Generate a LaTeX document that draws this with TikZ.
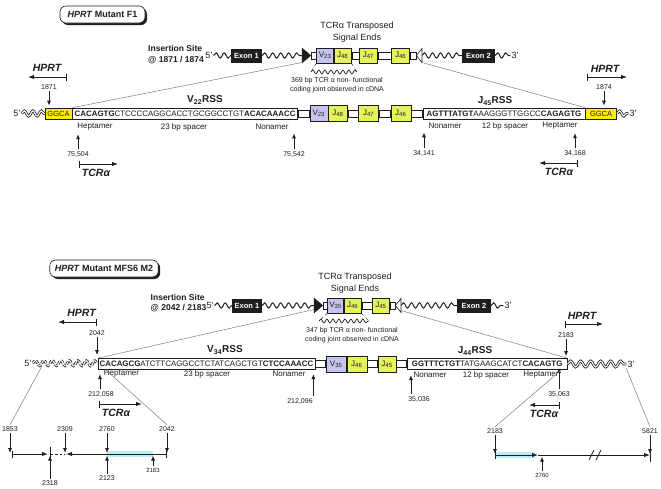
\documentclass[tikz,border=0pt]{standalone}
\usepackage{fontspec}
\setmainfont{Liberation Sans}
\usetikzlibrary{positioning,arrows.meta,decorations.pathmorphing,shadows}

\definecolor{ink}{RGB}{30,30,30}
\definecolor{vgene}{RGB}{196,196,238}
\definecolor{jgene}{RGB}{228,242,92}
\definecolor{ggcay}{RGB}{255,236,0}
\definecolor{projgray}{RGB}{125,125,125}
\definecolor{hilite}{RGB}{188,236,244}

\begin{document}
\begin{tikzpicture}[
    x=1pt, y=-1pt,
    every node/.style={text=ink},
    % Panel titles and headings
    paneltitle/.style={rectangle, rounded corners=6pt, draw=ink, semithick, fill=white, minimum width=85pt, minimum height=17pt, inner xsep=5pt, font=\fontsize{9}{11}\selectfont\bfseries, drop shadow={shadow xshift=2pt, shadow yshift=-2pt, fill=ink, opacity=1}},
    headtext/.style={align=center, font=\fontsize{9}{12}\selectfont},
    sitetext/.style={align=left, font=\fontsize{8.5}{10.5}\selectfont\bfseries},
    % Gene segments
    exonbox/.style={rectangle, fill=ink, text=white, minimum height=14pt, inner sep=0pt, font=\fontsize{7.5}{9}\selectfont\bfseries},
    genebox/.style={rectangle, draw=ink, semithick, minimum height=15pt, inner sep=0pt, font=\fontsize{8}{9}\selectfont},
    vbox/.style={genebox, fill=vgene},
    jbox/.style={genebox, fill=jgene},
    linkbox/.style={rectangle, draw=ink, semithick, fill=white, minimum height=7pt, inner sep=0pt},
    rssbox/.style={rectangle, draw=ink, semithick, fill=white, minimum height=11pt, inner sep=0pt, font=\fontsize{7.9}{9}\selectfont},
    ggcabox/.style={rssbox, fill=ggcay, font=\fontsize{7.5}{9}\selectfont},
    hlbox/.style={rectangle, fill=hilite, minimum height=6pt, inner sep=0pt},
    % Labels
    endlbl/.style={inner sep=1pt, font=\fontsize{9}{10}\selectfont},
    rsslbl/.style={font=\fontsize{10}{12}\selectfont\bfseries},
    partlbl/.style={font=\fontsize{8}{9}\selectfont},
    numlbl/.style={inner sep=1.5pt, font=\fontsize{7}{8}\selectfont},
    genename/.style={font=\fontsize{10.5}{12}\selectfont\bfseries\itshape},
    notetext/.style={align=center, font=\fontsize{7}{9}\selectfont},
    % Lines
    wave/.style={ink, line width=1pt, decorate, decoration={snake, amplitude=2.6pt, segment length=8pt}},
    dnawave/.style={ink, line width=0.8pt, double=white, double distance=1.1pt, decorate, decoration={snake, amplitude=2.6pt, segment length=8.5pt}},
    posarrow/.style={ink, line width=0.9pt, -{Latex[length=5pt, width=4pt]}},
    extent/.style={ink, line width=1pt, {Bar[width=7pt]}-{Latex[length=6pt, width=4.5pt]}},
    proj/.style={projgray, line width=0.5pt}
]

\fill[white] (0,0) rectangle (661,488);
\useasboundingbox (0,0) rectangle (661,488);

%%%%%%%%%%%%%%%% Mutant F1 %%%%%%%%%%%%%%%%
\node[paneltitle] (a_title) at (102.5,14.5) {\textit{HPRT} Mutant F1};
\node[headtext] (a_head) at (357,32) {TCRα Transposed\\Signal Ends};
\node[sitetext] (a_site) at (176,54.5) {Insertion Site\\@ 1871 / 1874};

% Transposed signal ends (top)
\node[endlbl] (a_t5) at (209,55.5) {5'};
\node[exonbox, minimum width=31pt] (a_ex1) at (246.5,55.5) {Exon 1};
\coordinate (a_fbase) at (302,55.5);
\node[linkbox, minimum width=5pt] (a_tl1) at (313.5,55.5) {};
\node[vbox, right=0pt of a_tl1, minimum width=17pt] (a_tv23) {V\textsubscript{23}};
\node[jbox, right=0pt of a_tv23, minimum width=17pt] (a_tj48) {J\textsubscript{48}};
\node[linkbox, right=0pt of a_tj48, minimum width=7pt] (a_tl2) {};
\node[jbox, right=0pt of a_tl2, minimum width=18pt] (a_tj47) {J\textsubscript{47}};
\node[linkbox, right=0pt of a_tj47, minimum width=13pt] (a_tl3) {};
\node[jbox, right=0pt of a_tl3, minimum width=18pt] (a_tj46) {J\textsubscript{46}};
\node[linkbox, right=0pt of a_tj46, minimum width=6pt] (a_tl4) {};
\coordinate (a_obase) at (422,55.5);
\node[exonbox, minimum width=33pt] (a_ex2) at (478.5,55.5) {Exon 2};
\node[endlbl] (a_t3) at (515,55.5) {3'};

\draw[wave] (a_t5) -- (a_ex1);
\draw[wave] (a_ex1) -- (a_fbase);
\draw[wave] (a_obase) -- (a_ex2);
\draw[wave] (a_ex2) -- (a_t3);
\filldraw[ink] ([yshift=7.5pt]a_fbase) -- (a_tl1.west) -- ([yshift=-7.5pt]a_fbase) -- cycle;
\draw[ink, semithick, fill=white] ([yshift=7pt]a_obase) -- (a_tl4.east) -- ([yshift=-7pt]a_obase) -- cycle;

% Coding joint
\coordinate (a_wl) at (311,72);
\coordinate (a_wr) at (357,72);
\draw[ink, dashed, thin] (a_tv23.south west) -- (a_wl);
\draw[ink, dashed, thin] (a_tj48.south east) -- (a_wr);
\draw[wave, line width=0.7pt, decoration={amplitude=2pt, segment length=6pt}] (a_wl) -- (a_wr);
\node[notetext] (a_note) at (337,85.5) {369 bp TCR α non- functional\\coding joint observed in cDNA};

% Integrated sequence
\node[endlbl] (a_m5) at (17,113.5) {5'};
\node[ggcabox, minimum width=27pt] (a_g1) at (58.5,113.5) {GGCA};
\node[rssbox, right=0pt of a_g1, minimum width=225pt] (a_rss1) {\textbf{CACAGTG}CTCCCCAGGCACCTGCGGCCTGT\textbf{ACACAAACC}};
\node[linkbox, right=0pt of a_rss1, minimum width=11pt] (a_l1) {};
\node[vbox, right=0pt of a_l1, minimum width=18pt, minimum height=16pt] (a_v23) {V\textsubscript{23}};
\node[jbox, right=0pt of a_v23, minimum width=19pt, minimum height=16pt] (a_j48) {J\textsubscript{48}};
\node[linkbox, right=0pt of a_j48, minimum width=10pt] (a_l2) {};
\node[jbox, right=0pt of a_l2, minimum width=20pt, minimum height=16pt] (a_j47) {J\textsubscript{47}};
\node[linkbox, right=0pt of a_j47, minimum width=11pt] (a_l3) {};
\node[jbox, right=0pt of a_l3, minimum width=20pt, minimum height=16pt] (a_j46) {J\textsubscript{46}};
\node[linkbox, right=0pt of a_j46, minimum width=11pt] (a_l4) {};
\node[rssbox, right=0pt of a_l4, minimum width=162pt] (a_rss2) {\textbf{AGTTTATGT}AAAGGGTTGGCC\textbf{CAGAGTG}};
\node[ggcabox, right=0pt of a_rss2, minimum width=31pt] (a_g2) {GGCA};
\node[endlbl] (a_m3) at (633,113.5) {3'};
\draw[dnawave] (a_m5) -- (a_g1);
\draw[dnawave] (a_g2) -- (a_m3);

% Projection lines
\draw[proj] ([yshift=-7pt]a_fbase) -- (a_rss1.north west);
\draw[proj] ([yshift=-7pt]a_obase) -- (a_rss2.north east);

% RSS labels
\node[rsslbl] (a_vrss) at (205,100) {V\textsubscript{22}RSS};
\node[rsslbl] (a_jrss) at (495,101) {J\textsubscript{45}RSS};
\node[partlbl] (a_hep1) at (95,127) {Heptamer};
\node[partlbl] (a_spa1) at (184,127) {23 bp spacer};
\node[partlbl] (a_non1) at (272,127) {Nonamer};
\node[partlbl] (a_non2) at (445,126) {Nonamer};
\node[partlbl] (a_spa2) at (505,126) {12 bp spacer};
\node[partlbl] (a_hep2) at (560,126) {Heptamer};

% TCRa positions
\node[numlbl] (a_n75504) at (78,154) {75,504};
\node[numlbl] (a_n75542) at (294,154) {75,542};
\node[numlbl] (a_n34141) at (424,153) {34,141};
\node[numlbl] (a_n34168) at (575,153) {34,168};
\draw[posarrow] (a_n75504) -- (a_n75504 |- a_hep1.south);
\draw[posarrow] (a_n75542) -- (a_n75542 |- a_non1.south);
\draw[posarrow] (a_n34141) -- (a_n34141 |- a_non2.south);
\draw[posarrow] (a_n34168) -- (a_n34168 |- a_hep2.south);

\coordinate (a_tcl_s) at (79,164);
\coordinate (a_tcl_e) at (118,164);
\draw[extent] (a_tcl_s) -- (a_tcl_e);
\node[genename] (a_tcr1) at (96,172.5) {TCRα};
\coordinate (a_tcr_s) at (578,163);
\coordinate (a_tcr_e) at (539,163);
\draw[extent] (a_tcr_s) -- (a_tcr_e);
\node[genename] (a_tcr2) at (559,171.5) {TCRα};

% HPRT positions
\node[genename] (a_hprt1) at (47,68) {HPRT};
\coordinate (a_hl_s) at (67,77);
\coordinate (a_hl_e) at (28,77);
\draw[extent] (a_hl_s) -- (a_hl_e);
\node[numlbl] (a_n1871) at (49,87) {1871};
\draw[posarrow, shorten >=2pt] (a_n1871) -- (a_n1871 |- a_g1.north);

\node[genename] (a_hprt2) at (605,69) {HPRT};
\coordinate (a_hr_s) at (587,77);
\coordinate (a_hr_e) at (627,77);
\draw[extent] (a_hr_s) -- (a_hr_e);
\node[numlbl] (a_n1874) at (604,87) {1874};
\draw[posarrow, shorten >=2pt] (a_n1874) -- (a_n1874 |- a_g2.north);

%%%%%%%%%%%%%%%% Mutant MFS6 M2 %%%%%%%%%%%%%%%%
\node[paneltitle] (b_title) at (104,268.5) {\textit{HPRT} Mutant MFS6 M2};
\node[headtext] (b_head) at (355,283) {TCRα Transposed\\Signal Ends};
\node[sitetext] (b_site) at (178.5,303) {Insertion Site\\@ 2042 / 2183};

% Transposed signal ends (top)
\node[endlbl] (b_t5) at (210,305.5) {5'};
\node[exonbox, minimum width=30pt] (b_ex1) at (247,305.5) {Exon 1};
\coordinate (b_fbase) at (314,305.5);
\node[linkbox, minimum width=4pt] (b_tl1) at (325,305.5) {};
\node[vbox, right=0pt of b_tl1, minimum width=16pt] (b_tv35) {V\textsubscript{35}};
\node[jbox, right=0pt of b_tv35, minimum width=17pt] (b_tj46) {J\textsubscript{46}};
\node[linkbox, right=0pt of b_tj46, minimum width=10pt] (b_tl2) {};
\node[jbox, right=0pt of b_tl2, minimum width=17pt] (b_tj45) {J\textsubscript{45}};
\node[linkbox, right=0pt of b_tj45, minimum width=5pt] (b_tl3) {};
\coordinate (b_obase) at (401,305.5);
\node[exonbox, minimum width=34pt] (b_ex2) at (474,305.5) {Exon 2};
\node[endlbl] (b_t3) at (508,305.5) {3'};

\draw[wave] (b_t5) -- (b_ex1);
\draw[wave] (b_ex1) -- (b_fbase);
\draw[wave] (b_obase) -- (b_ex2);
\draw[wave] (b_ex2) -- (b_t3);
\filldraw[ink] ([yshift=7.5pt]b_fbase) -- (b_tl1.west) -- ([yshift=-7.5pt]b_fbase) -- cycle;
\draw[ink, semithick, fill=white] ([yshift=7pt]b_obase) -- (b_tl3.east) -- ([yshift=-7pt]b_obase) -- cycle;

% Coding joint
\coordinate (b_wl) at (319,321);
\coordinate (b_wr) at (369,321);
\draw[ink, dashed, thin] (b_tv35.south west) -- (b_wl);
\draw[ink, dashed, thin] (b_tj46.south east) -- (b_wr);
\draw[wave, line width=0.7pt, decoration={amplitude=2pt, segment length=6pt}] (b_wl) -- (b_wr);
\node[notetext] (b_note) at (352,335.5) {347 bp TCR α non- functional\\coding joint observed in cDNA};

% Integrated sequence
\node[endlbl] (b_m5) at (28,363) {5'};
\node[rssbox, minimum width=217pt] (b_rss3) at (206.5,364) {\textbf{CACAGCG}ATCTTCAGGCCTCTATCAGCTGT\textbf{CTCCAAACC}};
\node[linkbox, right=0pt of b_rss3, minimum width=10pt] (b_l1) {};
\node[vbox, right=0pt of b_l1, minimum width=20pt, minimum height=16pt] (b_v35) {V\textsubscript{35}};
\node[jbox, right=0pt of b_v35, minimum width=20pt, minimum height=16pt] (b_j46) {J\textsubscript{46}};
\node[linkbox, right=0pt of b_j46, minimum width=10pt] (b_l2) {};
\node[jbox, right=0pt of b_l2, minimum width=18pt, minimum height=16pt] (b_j45) {J\textsubscript{45}};
\node[linkbox, right=0pt of b_j45, minimum width=10pt] (b_l3) {};
\node[rssbox, right=0pt of b_l3, minimum width=160pt] (b_rss4) {\textbf{GGTTTCTGT}TATGAAGCATCT\textbf{CACAGTG}};
\node[endlbl] (b_m3) at (631,364) {3'};
\draw[dnawave, dashed, dash pattern=on 3pt off 1.5pt] (b_m5) -- (b_rss3);
\draw[dnawave, decoration={amplitude=3pt, segment length=10pt}] (b_rss4) -- (b_m3);

% Projection lines
\draw[proj] ([yshift=-4pt]b_fbase) -- (b_rss3.north west);
\draw[proj] ([yshift=-5pt]b_obase) -- (b_rss4.north east);

% RSS labels
\node[rsslbl] (b_vrss) at (225,350) {V\textsubscript{34}RSS};
\node[rsslbl] (b_jrss) at (475,351) {J\textsubscript{44}RSS};
\node[partlbl] (b_hep3) at (121.5,374) {Heptamer};
\node[partlbl] (b_spa3) at (207,374) {23 bp spacer};
\node[partlbl] (b_non3) at (289,374) {Nonamer};
\node[partlbl] (b_non4) at (430,375) {Nonamer};
\node[partlbl] (b_spa4) at (486,375) {12 bp spacer};
\node[partlbl] (b_hep4) at (541,375) {Heptamer};

% TCRa positions
\node[numlbl] (b_n212058) at (101,394) {212,058};
\node[numlbl] (b_n212096) at (300,401) {212,096};
\node[numlbl] (b_n35036) at (419,399) {35,036};
\node[numlbl] (b_n35063) at (559,394) {35,063};
\draw[posarrow] ([xshift=-1pt]b_n212058.north) -- ([xshift=-1pt]b_n212058.north |- b_hep3);
\draw[posarrow] ([xshift=-1pt]b_n212096.north east) -- ([xshift=-1pt]b_n212096.north east |- b_non3);
\draw[posarrow] ([xshift=-8pt]b_n35036.north) -- ([xshift=-8pt]b_n35036.north |- b_non4);
\draw[posarrow] (b_n35063) -- (b_n35063 |- b_hep4.north);

\coordinate (b_tcl_s) at (99,404);
\coordinate (b_tcl_e) at (142,404);
\draw[extent] (b_tcl_s) -- (b_tcl_e);
\node[genename] (b_tcr1) at (116,412.5) {TCRα};
\coordinate (b_tcr_s) at (560,405);
\coordinate (b_tcr_e) at (529,405);
\draw[extent] (b_tcr_s) -- (b_tcr_e);
\node[genename] (b_tcr2) at (544,413.5) {TCRα};

% HPRT positions
\node[genename] (b_hprt1) at (81.5,313) {HPRT};
\coordinate (b_hl_s) at (97,322);
\coordinate (b_hl_e) at (58,322);
\draw[extent] (b_hl_s) -- (b_hl_e);
\node[numlbl] (b_n2042) at (97,333) {2042};
\draw[posarrow, shorten >=3pt] (b_n2042) -- (b_n2042 |- b_rss3.north);

\node[genename] (b_hprt2) at (582,315.5) {HPRT};
\coordinate (b_hr_s) at (565,324);
\coordinate (b_hr_e) at (603,324);
\draw[extent] (b_hr_s) -- (b_hr_e);
\node[numlbl] (b_n2183) at (566,335) {2183};
\draw[posarrow, shorten >=2pt] (b_n2183) -- (b_n2183 |- b_rss4.north);

% Left HPRT map
\coordinate (b_ax1) at (12,454);
\coordinate (b_ax2) at (48,454);
\coordinate (b_ax3) at (50,454);
\coordinate (b_ax4) at (65,454);
\coordinate (b_ax5) at (66,454);
\coordinate (b_ax6) at (167,454);
\node[hlbox, minimum width=46pt] (b_hl1) at (130,454) {};
\draw[extent] (b_ax1) -- (b_ax2);
\draw[ink, line width=1pt, dash pattern=on 2.5pt off 2pt, {Bar[width=14pt]}-] (b_ax3) -- (b_ax4);
\draw[extent, {Latex[length=6pt, width=4.5pt]}-{Bar[width=7pt]}] (b_ax5) -- (b_ax6);

\node[numlbl] (b_d1853) at (10,429) {1853};
\node[numlbl] (b_d2309) at (65,429) {2309};
\node[numlbl] (b_d2760) at (107,429) {2760};
\node[numlbl] (b_d2042) at (167,429) {2042};
\node[numlbl] (b_u2318) at (50,483) {2318};
\node[numlbl] (b_u2123) at (107,478) {2123};
\node[numlbl, font=\fontsize{6}{7}\selectfont] (b_u2183) at (153,470) {2183};
\foreach \n in {b_d1853, b_d2309, b_d2760, b_d2042}
    \draw[posarrow, shorten >=1pt] (\n) -- (\n |- b_ax1);
\foreach \n in {b_u2318, b_u2123, b_u2183}
    \draw[posarrow, shorten >=1.5pt] (\n) -- (\n |- b_ax1);

\coordinate (b_cut1) at (42,366);
\draw[proj] (b_cut1) -- (b_d1853.north);
\draw[proj] ([xshift=8pt]b_rss3.south west) -- (b_d2042.north);

% Right HPRT map
\coordinate (b_rx1) at (495,455);
\coordinate (b_rx2) at (538,455);
\coordinate (b_rx3) at (650,455);
\coordinate (b_brk) at (595,455);
\node[hlbox, minimum width=40pt] (b_hl2) at (515,455) {};
\draw[extent] (b_rx1) -- (b_rx2);
\draw[ink, line width=1pt, -{Latex[length=6pt, width=4.5pt]}] (b_rx2) -- (b_rx3);
\draw[ink, line width=1pt] ([yshift=7pt]b_rx3) -- ([yshift=-7pt]b_rx3);
\draw[ink, line width=0.8pt] ([shift={(-6,5)}]b_brk) -- ([shift={(-1,-5)}]b_brk);
\draw[ink, line width=0.8pt] ([shift={(1,5)}]b_brk) -- ([shift={(6,-5)}]b_brk);

\node[numlbl] (b_d2183) at (495,431) {2183};
\node[numlbl] (b_d5821) at (650,431) {5821};
\node[numlbl, font=\fontsize{6}{7}\selectfont] (b_u2760) at (542,475) {2760};
\foreach \n in {b_d2183, b_d5821}
    \draw[posarrow, shorten >=1pt] (\n) -- (\n |- b_rx1);
\draw[posarrow, shorten >=1.5pt] (b_u2760) -- (b_u2760 |- b_rx1);

\draw[proj] ([xshift=-6pt]b_rss4.south east) -- (b_d2183.north);
\draw[proj] (b_m3.south west) -- (b_d5821.north);

\end{tikzpicture}
\end{document}
